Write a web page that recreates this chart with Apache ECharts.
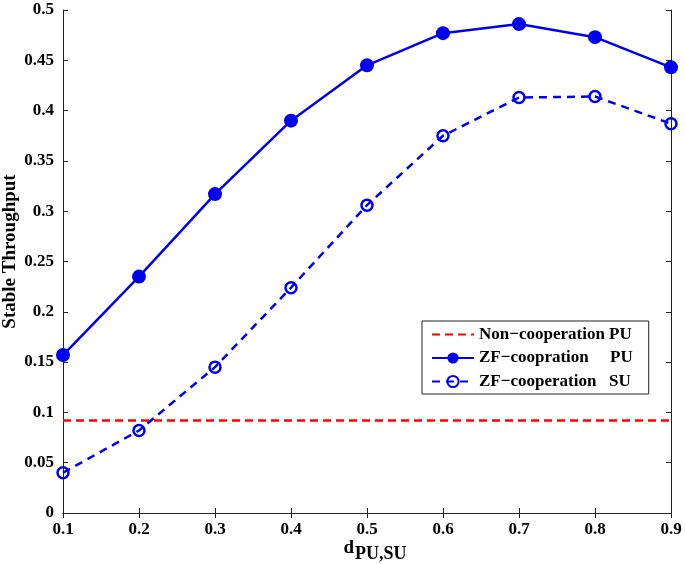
<!DOCTYPE html>
<html><head><meta charset="utf-8">
<script src="https://cdn.jsdelivr.net/npm/echarts@6/dist/echarts.min.js"></script>
<style>html,body{margin:0;padding:0;background:#fff}#c{width:685px;height:564px}</style>
</head><body><div id="c"></div>
<script>
const xValues = [0.1, 0.2, 0.3, 0.4, 0.5, 0.6, 0.7, 0.8, 0.9];
const zfPU = [0.157, 0.235, 0.317, 0.390, 0.445, 0.477, 0.486, 0.473, 0.443];
const zfSU = [0.040, 0.082, 0.145, 0.224, 0.306, 0.375, 0.413, 0.414, 0.387];
const nonCoopPU = [0.092, 0.092, 0.092, 0.092, 0.092, 0.092, 0.092, 0.092, 0.092];
const seriesNames = ['Non\u2212cooperation PU', 'ZF\u2212coopration     PU', 'ZF\u2212cooperation   SU'];

const font = 'Liberation Serif';
const pair = arr => xValues.map((x, i) => [x, arr[i]]);
const axisLine = {show: true, lineStyle: {color: '#222', width: 1}};
const tick = {show: true, inside: true, length: 5, lineStyle: {color: '#222'}};

const chart = echarts.init(document.getElementById('c'));
chart.setOption({
  animation: false,
  backgroundColor: '#fff',
  grid: {left: 63, right: 14, top: 10, bottom: 51, containLabel: false, outerBoundsMode: 'none'},
  legend: {
    orient: 'vertical',
    left: 422, top: 321,
    padding: [5, 16, 4, 9],
    itemGap: 6.5,
    itemWidth: 42, itemHeight: 14,
    borderColor: '#222', borderWidth: 1, backgroundColor: '#fff', borderRadius: 0,
    textStyle: {fontFamily: font, fontWeight: 'bold', fontSize: 17, color: '#000'},
    data: [
      {name: seriesNames[0], itemStyle: {opacity: 0}},
      {name: seriesNames[1]},
      {name: seriesNames[2]}
    ]
  },
  xAxis: [{
    type: 'value', min: 0.1, max: 0.9, interval: 0.1,
    axisLine, axisTick: tick, splitLine: {show: false},
    axisLabel: {fontFamily: font, fontWeight: 'bold', fontSize: 17, color: '#000', margin: 8,
      formatter: v => (Math.round(v * 10) / 10).toString()},
    name: '{d|d}{s|PU,SU}', nameLocation: 'middle', nameGap: 20,
    nameMoveOverlap: false,
    nameTextStyle: {padding: [0, 0, 0, 16], rich: {
      d: {fontFamily: font, fontWeight: 'bold', fontSize: 19, color: '#000'},
      s: {fontFamily: font, fontWeight: 'bold', fontSize: 18, color: '#000', padding: [12, 0, 0, 1]}
    }}
  }, {
    type: 'value', min: 0.1, max: 0.9, interval: 0.1, position: 'top',
    axisLine, axisTick: tick, axisLabel: {show: false}, splitLine: {show: false}
  }],
  yAxis: [{
    type: 'value', min: 0, max: 0.5, interval: 0.05,
    axisLine, axisTick: tick, splitLine: {show: false},
    axisLabel: {fontFamily: font, fontWeight: 'bold', fontSize: 17, color: '#000', margin: 9,
      formatter: v => (Math.round(v * 100) / 100).toString()},
    name: 'Stable Throughput', nameLocation: 'middle', nameGap: 43, nameRotate: 90,
    nameMoveOverlap: false,
    nameTextStyle: {fontFamily: font, fontWeight: 'bold', fontSize: 19, color: '#000', padding: [0, 0, 0, 20]}
  }, {
    type: 'value', min: 0, max: 0.5, interval: 0.05, position: 'right',
    axisLine, axisTick: tick, axisLabel: {show: false}, splitLine: {show: false}
  }],
  series: [{
    name: seriesNames[0], type: 'line', data: pair(nonCoopPU),
    showSymbol: false, symbol: 'none',
    lineStyle: {color: '#ff0000', width: 2.5, type: [8, 5]},
    itemStyle: {color: '#ff0000'}
  }, {
    name: seriesNames[1], type: 'line', data: pair(zfPU),
    symbol: 'circle', symbolSize: 14,
    lineStyle: {color: '#0000ee', width: 2.5},
    itemStyle: {color: '#0000ee'}
  }, {
    name: seriesNames[2], type: 'line', data: pair(zfSU),
    symbol: 'circle', symbolSize: 11,
    lineStyle: {color: '#0000ee', width: 2.5, type: [8, 6]},
    itemStyle: {color: 'rgba(255,255,255,0)', borderColor: '#0000ee', borderWidth: 2.5}
  }]
});
</script></body></html>
